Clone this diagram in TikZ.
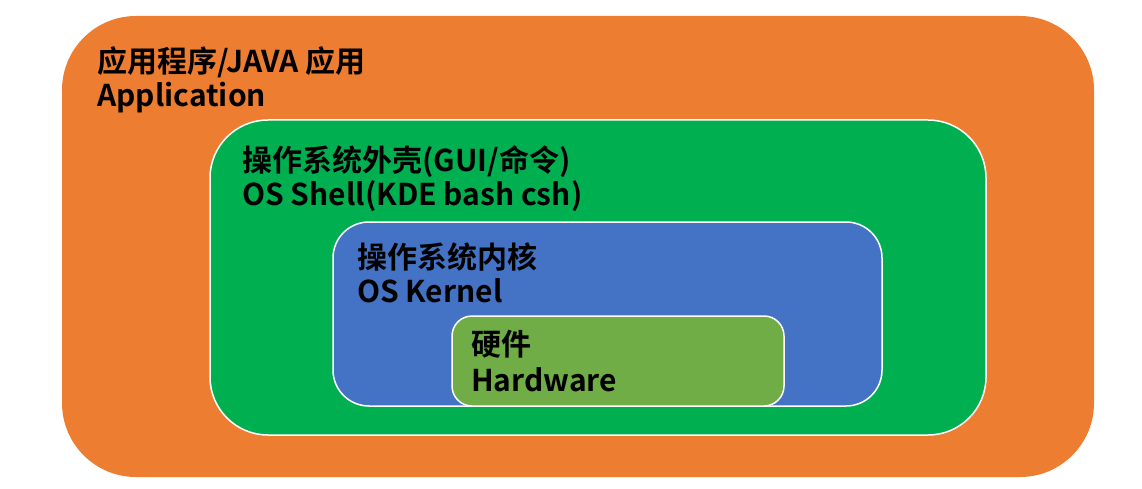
\documentclass[tikz,border=0pt]{standalone}
\usepackage{fontspec}
\setmainfont{Noto Sans CJK SC}[BoldFont={Noto Sans CJK SC Bold}]
\definecolor{cOrange}{HTML}{ED7D31}
\definecolor{cGreen}{HTML}{00B050}
\definecolor{cBlue}{HTML}{4472C4}
\definecolor{cLime}{HTML}{70AD47}
\begin{document}
\begin{tikzpicture}[x=1pt,y=-1pt,
  layerbox/.style={draw=white, line width=1.5pt},
  lbl/.style={anchor=base west, inner sep=0pt, align=left, text=black,
    font=\bfseries\fontsize{30}{34}\selectfont}]
\useasboundingbox (0,0) rectangle (1142,489);
\fill[cOrange, rounded corners=74pt] (62,16) rectangle (1094,477);
\path[layerbox, fill=cGreen, rounded corners=58pt] (210,120) rectangle (986,435);
\path[layerbox, fill=cBlue, rounded corners=36pt] (333,222) rectangle (882,406);
\path[layerbox, fill=cLime, rounded corners=20pt] (452,316) rectangle (784,406);
\node[lbl] (app) at (97,107) {应用程序/JAVA 应用\\Application};
\node[lbl] (shell) at (242,205) {操作系统外壳(GUI/命令)\\OS Shell(KDE bash csh)};
\node[lbl] (kernel) at (357,302) {操作系统内核\\OS Kernel};
\node[lbl, font=\bfseries\fontsize{30}{36}\selectfont] (hw) at (471,391) {硬件\\Hardware};
\end{tikzpicture}
\end{document}
